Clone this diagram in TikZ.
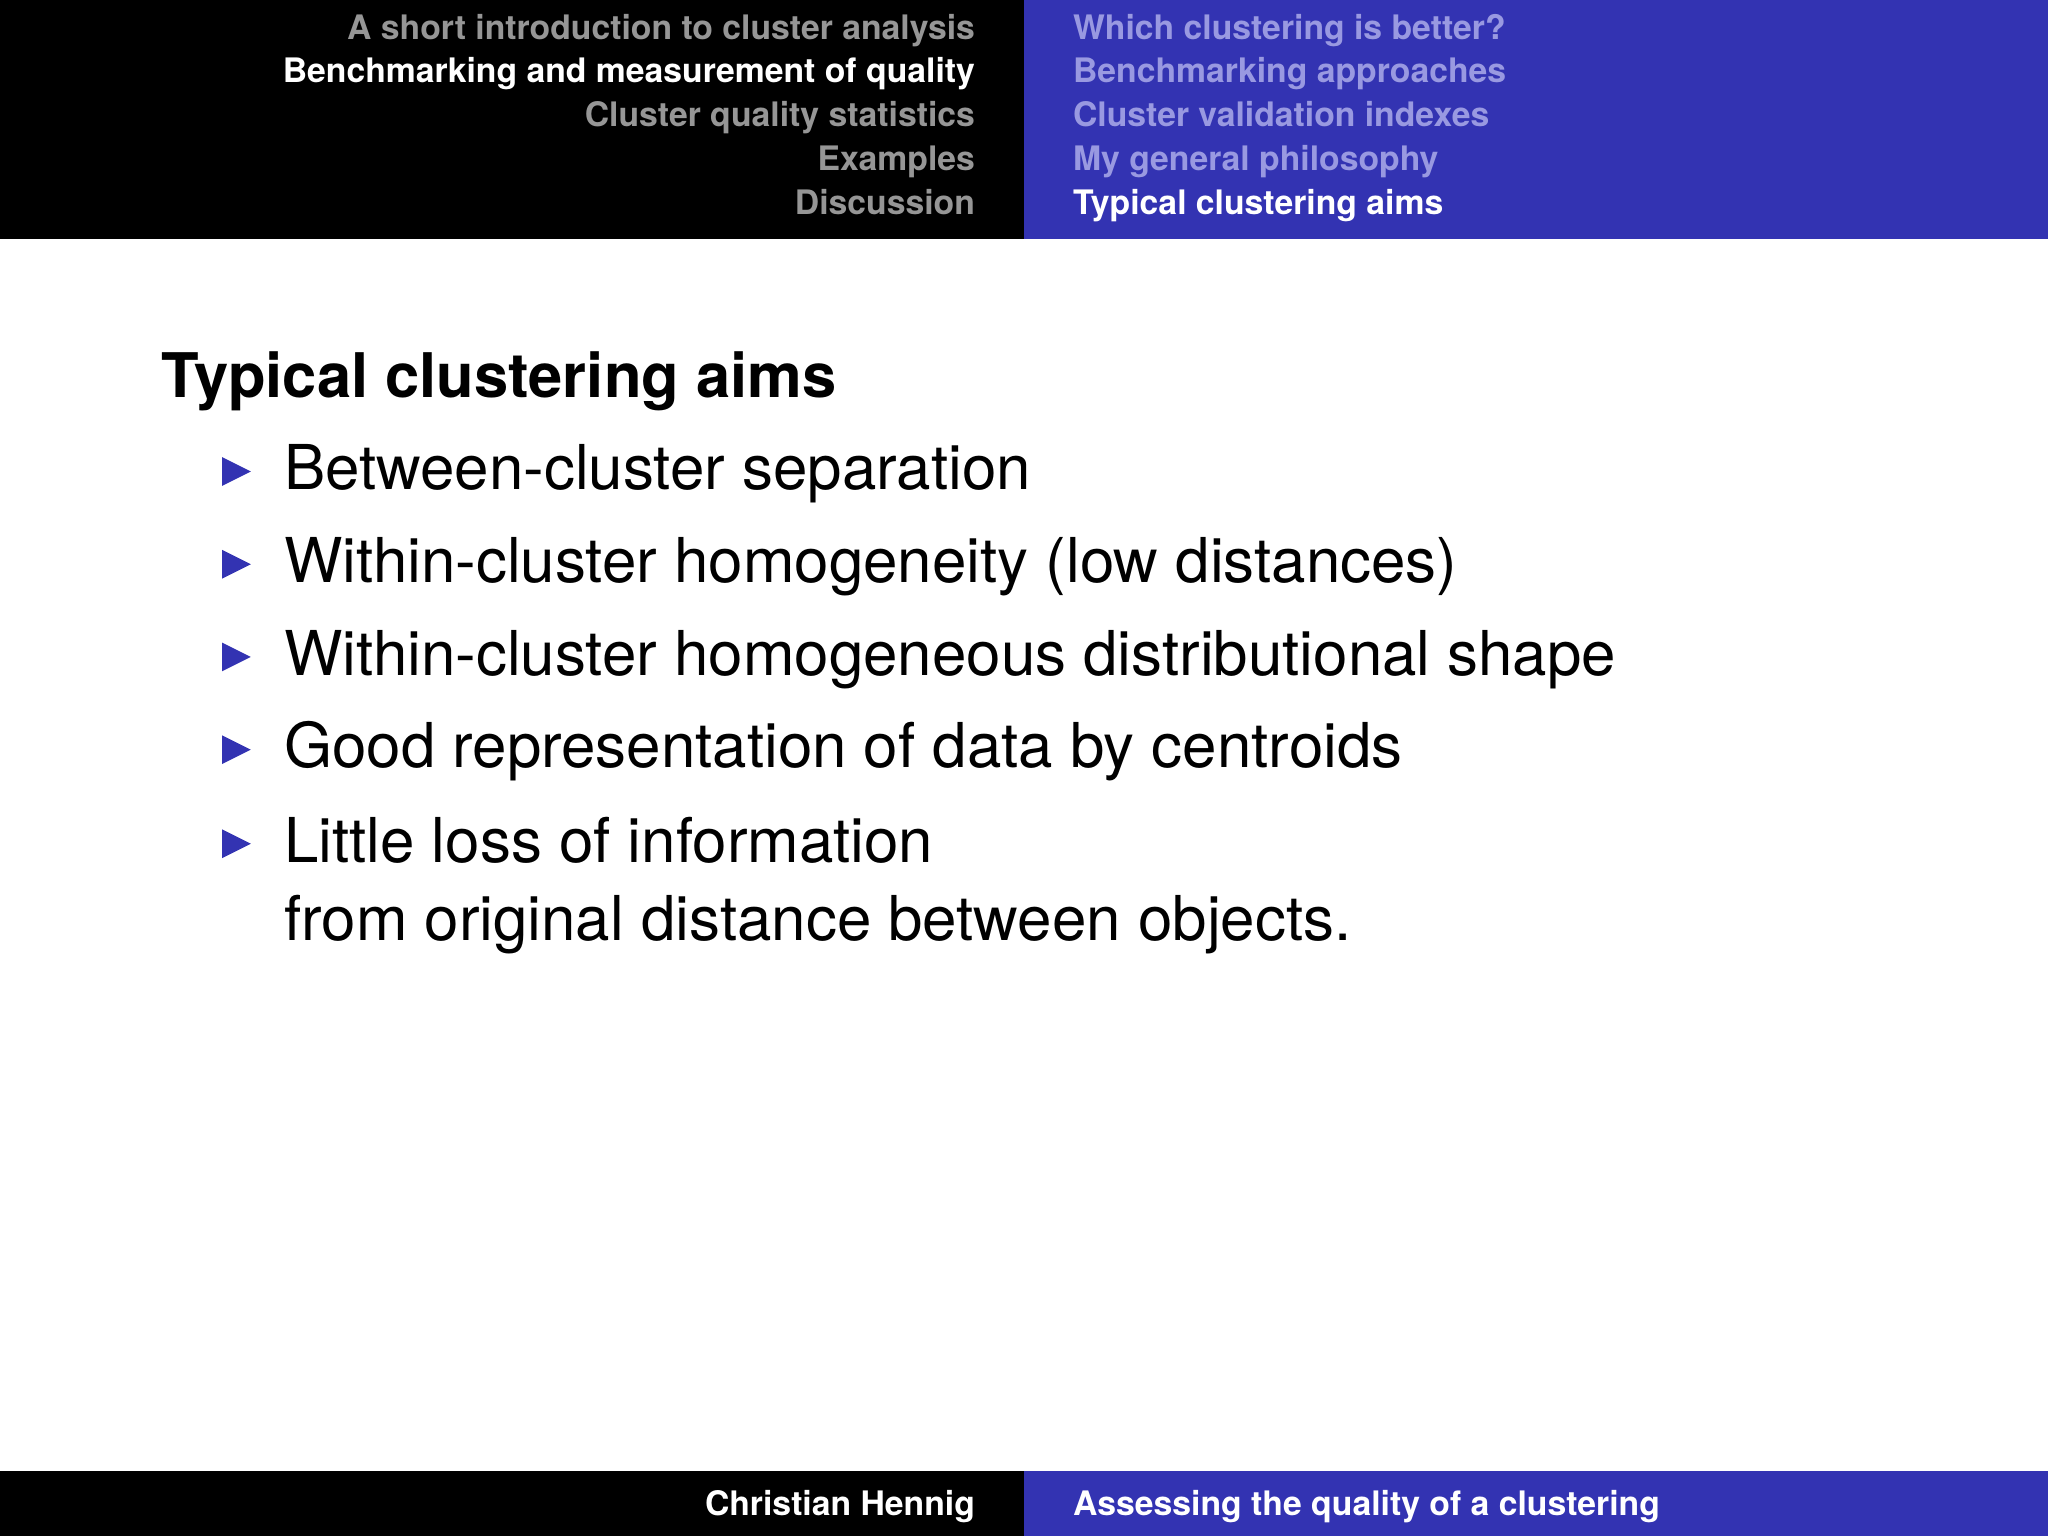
\documentclass[tikz,border=0pt]{standalone}
\usepackage{fontspec}
\setmainfont{TeX Gyre Heros}
\definecolor{bblue}{RGB}{51,51,178}
\definecolor{lblue}{RGB}{153,153,225}
\definecolor{hgray}{RGB}{150,150,150}
\begin{document}
\begin{tikzpicture}[x=0.013061cm,y=-0.013061cm,
  hl/.style={anchor=base east,font=\fontsize{9.6}{12}\selectfont\bfseries,inner sep=0},
  hr/.style={anchor=base west,font=\fontsize{9.6}{12}\selectfont\bfseries,inner sep=0},
  item/.style={anchor=base west,font=\fontsize{17.6}{21}\selectfont,inner sep=0},
  bul/.style={fill=bblue}]
\useasboundingbox (0,0) rectangle (1568,1176);
\fill[black] (0,0) rectangle (784,183);
\fill[bblue] (784,0) rectangle (1568,183);
\fill[black] (0,1126) rectangle (784,1176);
\fill[bblue] (784,1126) rectangle (1568,1176);
\node[hl,hgray] (l1) at (747,30) {A short introduction to cluster analysis};
\node[hl,white] (l2) at (747,63.5) {Benchmarking and measurement of quality};
\node[hl,hgray] (l3) at (747,97) {Cluster quality statistics};
\node[hl,hgray] (l4) at (747,130.5) {Examples};
\node[hl,hgray] (l5) at (747,164) {Discussion};
\node[hr,lblue] (r1) at (821,30) {Which clustering is better?};
\node[hr,lblue] (r2) at (821,63.5) {Benchmarking approaches};
\node[hr,lblue] (r3) at (821,97) {Cluster validation indexes};
\node[hr,lblue] (r4) at (821,130.5) {My general philosophy};
\node[hr,white] (r5) at (821,164) {Typical clustering aims};
\node[hl,white] (fl) at (747,1160) {Christian Hennig};
\node[hr,white] (fr) at (821,1160) {Assessing the quality of a clustering};
\node[anchor=base west,inner sep=0,font=\fontsize{17.5}{20}\selectfont\bfseries] (title) at (123,304) {Typical clustering aims};
\foreach \y/\t [count=\i] in {375/Between-cluster separation,446/Within-cluster homogeneity (low distances),517/Within-cluster homogeneous distributional shape,588/Good representation of data by centroids,660/Little loss of information}{
  \node[item] (it\i) at (217,\y) {\t};
  \fill[bul] (170,\y-25) -- (192,\y-14) -- (170,\y-3) -- cycle;
}
\node[item] (it6) at (217,720) {from original distance between objects.};
\end{tikzpicture}
\end{document}
